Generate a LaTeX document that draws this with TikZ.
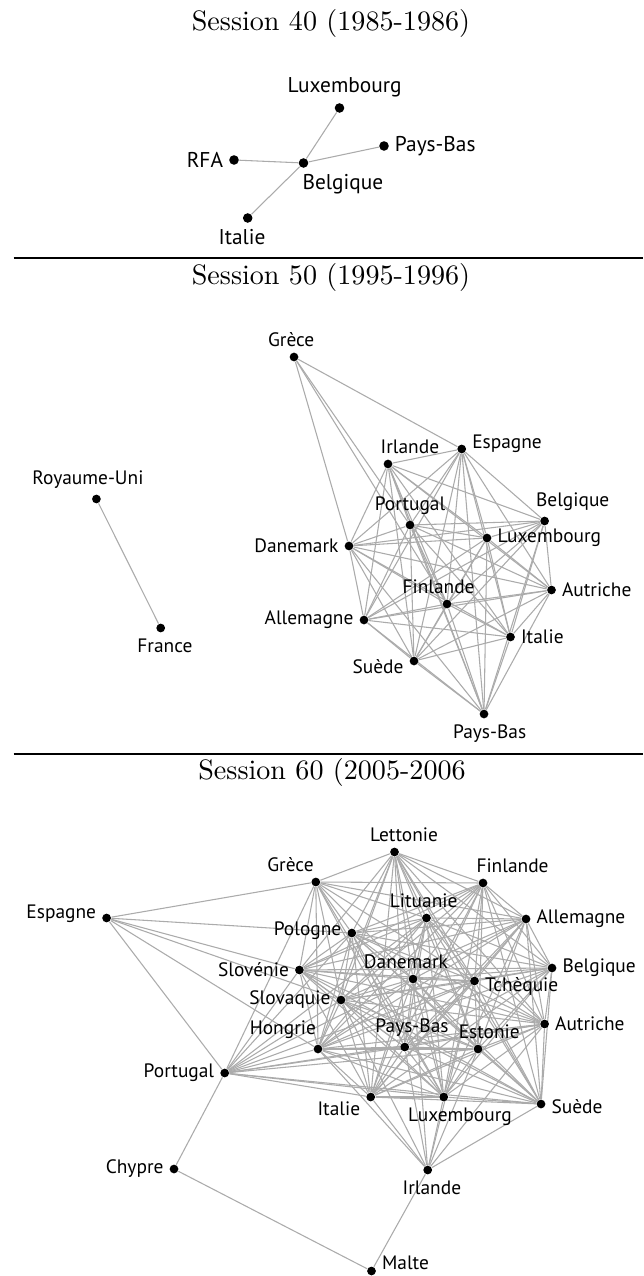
\documentclass[tikz,border=0pt]{standalone}
\usepackage{fontspec}
\newfontfamily\paysfont{PT Sans}
\usetikzlibrary{backgrounds}

\tikzset{
  pays/.style={circle, fill=black, inner sep=0pt, minimum size=3.1pt},
  paysA/.style={pays, minimum size=3.4pt},
  nom/.style={font=\paysfont\fontsize{6.9}{7}\selectfont, inner sep=0.8pt, text=black},
  nomA/.style={nom, font=\paysfont\fontsize{7.6}{8}\selectfont},
  lien/.style={draw=black!33, line width=0.38pt},
  titre/.style={font=\normalsize, inner sep=0pt},
}

\begin{document}
\begin{tikzpicture}[x=0.3557pt, y=-0.3557pt, label distance=1pt]
  \useasboundingbox (0,0) rectangle (643,1276);

  % ---- session 40
  \node[titre] (t40) at (331,23) {Session 40 (1985-1986)};
  \node[paysA, label={[nomA, xshift=1.8pt]above:Luxembourg}] (lu40) at (339.5,108) {};
  \node[paysA, label={[nomA]right:Pays-Bas}] (pb40) at (384,146) {};
  \node[paysA, label={[nomA]left:RFA}] (rfa40) at (234,160) {};
  \node[paysA, label={[nomA, xshift=14pt]below:Belgique}] (be40) at (303.5,163) {};
  \node[paysA, label={[nomA, xshift=-2pt]below:Italie}] (it40) at (247.7,218) {};
  \begin{scope}[on background layer]
    \foreach \p in {lu40,pb40,rfa40,it40} \draw[lien] (be40) -- (\p);
  \end{scope}

  \draw[line width=0.45pt] (13.5,258) -- (643,258);

  % ---- session 50
  \node[titre] (t50) at (331,277) {Session 50 (1995-1996)};
  \node[pays, label={[nom, xshift=-1pt]above:Grèce}] (gr50) at (294,357) {};
  \node[pays, label={[nom, xshift=7.8pt]above:Irlande}] (ir50) at (388,464) {};
  \node[pays, label={[nom, yshift=1.8pt]right:Espagne}] (es50) at (461.7,449) {};
  \node[pays, label={[nom, xshift=-3pt]above:Royaume-Uni}] (ru50) at (96.4,499) {};
  \node[pays, label={[nom, xshift=10pt]above:Belgique}] (be50) at (544.6,521) {};
  \node[pays, label={[nom]above:Portugal}] (pt50) at (410,525) {};
  \node[pays, label={[nom]right:Luxembourg}] (lu50) at (487,538) {};
  \node[pays, label={[nom]left:Danemark}] (da50) at (349,546) {};
  \node[pays, label={[nom]right:Autriche}] (au50) at (551.5,590) {};
  \node[pays, label={[nom, xshift=-3pt]above:Finlande}] (fi50) at (447,604) {};
  \node[pays, label={[nom]left:Allemagne}] (al50) at (364,620) {};
  \node[pays, label={[nom, xshift=1.5pt]below:France}] (fr50) at (160.7,628) {};
  \node[pays, label={[nom]right:Italie}] (it50) at (510.5,637) {};
  \node[pays, label={[nom, yshift=-2pt]left:Suède}] (su50) at (414,661) {};
  \node[pays, label={[nom, xshift=2pt]below:Pays-Bas}] (pb50) at (484,714) {};

  \def\blocB{ir50,es50,pt50,be50,lu50,da50,au50,fi50,al50,it50,su50,pb50}
  \begin{scope}[on background layer]
    \draw[lien] (ru50) -- (fr50);
    \foreach \p in {es50,da50,pt50,fi50} \draw[lien] (gr50) -- (\p);
    \foreach \a [count=\i] in \blocB {
      \foreach \b [count=\j] in \blocB {
        \ifnum\j>\i \draw[lien] (\a) -- (\b); \fi
      }
    }
  \end{scope}

  \draw[line width=0.45pt] (13.5,754) -- (643,754);

  % ---- session 60
  \node[titre] (t60) at (332,772) {Session 60 (2005-2006};
  \node[pays, label={[nom, xshift=3.4pt]above:Lettonie}] (le60) at (394.5,852) {};
  \node[pays, label={[nom, xshift=-9pt]above:Grèce}] (gr60) at (315.8,882) {};
  \node[pays, label={[nom, xshift=10.5pt]above:Finlande}] (fi60) at (483,883) {};
  \node[pays, label={[nom, yshift=1.4pt]left:Espagne}] (es60) at (106.6,918) {};
  \node[pays, label={[nom, xshift=-1pt]above:Lituanie}] (li60) at (426.5,918) {};
  \node[pays, label={[nom]right:Allemagne}] (al60) at (526,919) {};
  \node[pays, label={[nom, yshift=1pt]left:Pologne}] (po60) at (351.8,933) {};
  \node[pays, label={[nom]left:Slovénie}] (sn60) at (299.4,970) {};
  \node[pays, label={[nom, xshift=-2.5pt]above:Danemark}] (da60) at (413,979) {};
  \node[pays, label={[nom]right:Belgique}] (be60) at (552,968) {};
  \node[pays, label={[nom, yshift=-1.8pt]right:Tchèquie}] (tc60) at (474.5,981) {};
  \node[pays, label={[nom]left:Slovaquie}] (sk60) at (341,1000) {};
  \node[pays, label={[nom]right:Autriche}] (au60) at (544.6,1024) {};
  \node[pays, label={[nom, xshift=-12.5pt]above:Hongrie}] (ho60) at (318,1049) {};
  \node[pays, label={[nom, xshift=2.6pt]above:Pays-Bas}] (pb60) at (404.7,1047) {};
  \node[pays, label={[nom, xshift=4pt]above:Estonie}] (et60) at (478,1049) {};
  \node[pays, label={[nom]left:Portugal}] (pt60) at (224.7,1073) {};
  \node[pays, label={[nom, yshift=-4pt]left:Italie}] (it60) at (370.7,1097) {};
  \node[pays, label={[nom, xshift=5.8pt]below:Luxembourg}] (lu60) at (443.7,1097) {};
  \node[pays, label={[nom, yshift=-1pt]right:Suède}] (su60) at (541,1104) {};
  \node[pays, label={[nom]left:Chypre}] (ch60) at (174,1169) {};
  \node[pays, label={[nom, xshift=1.5pt]below:Irlande}] (ir60) at (427.7,1170) {};
  \node[pays, label={[nom, yshift=3pt]right:Malte}] (ma60) at (371.5,1271) {};

  \def\blocC{le60,fi60,li60,al60,po60,sn60,da60,be60,tc60,sk60,au60,ho60,pb60,et60,it60,lu60,su60}
  \begin{scope}[on background layer]
    \foreach \a [count=\i] in \blocC {
      \foreach \b [count=\j] in \blocC {
        \ifnum\j>\i \draw[lien] (\a) -- (\b); \fi
      }
    }
    \foreach \p in {es60,le60,fi60,li60,po60,sn60,da60,sk60,ho60,pb60,tc60,al60,lu60}
      \draw[lien] (gr60) -- (\p);
    \foreach \p in {po60,sn60,sk60,ho60,pt60}
      \draw[lien] (es60) -- (\p);
    \foreach \p in {gr60,po60,sn60,sk60,ho60,da60,pb60,et60,it60,lu60,su60,tc60,au60,li60,ch60}
      \draw[lien] (pt60) -- (\p);
    \foreach \p in {ho60,it60,pb60,lu60,et60,su60,au60,tc60,da60,sk60,ma60}
      \draw[lien] (ir60) -- (\p);
    \draw[lien] (ch60) -- (ma60);
  \end{scope}
\end{tikzpicture}
\end{document}
